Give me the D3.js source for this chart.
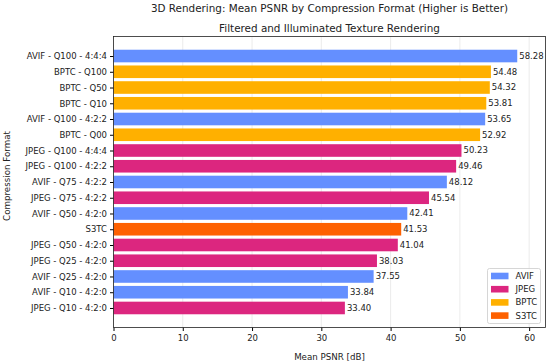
<!DOCTYPE html>
<html>
<head>
<meta charset="utf-8">
<script src="https://cdn.jsdelivr.net/npm/d3@7"></script>
<style>
  body { margin: 0; background: #fff; }
  svg { font-family: "DejaVu Sans", sans-serif; }
</style>
</head>
<body>
<svg id="chart" width="550" height="362"></svg>
<script>
// Data
const labels = [
    "AVIF - Q100 - 4:4:4", "BPTC - Q100", "BPTC - Q50", "BPTC - Q10",
    "AVIF - Q100 - 4:2:2", "BPTC - Q00", "JPEG - Q100 - 4:4:4", "JPEG - Q100 - 4:2:2",
    "AVIF - Q75 - 4:2:2", "JPEG - Q75 - 4:2:2", "AVIF - Q50 - 4:2:0", "S3TC",
    "JPEG - Q50 - 4:2:0", "JPEG - Q25 - 4:2:0", "AVIF - Q25 - 4:2:0", "AVIF - Q10 - 4:2:0",
    "JPEG - Q10 - 4:2:0"
];
const formats = [
    "AVIF", "BPTC", "BPTC", "BPTC", "AVIF", "BPTC", "JPEG", "JPEG",
    "AVIF", "JPEG", "AVIF", "S3TC", "JPEG", "JPEG", "AVIF", "AVIF", "JPEG"
];
const psnr = [
    58.28, 54.48, 54.32, 53.81, 53.65, 52.92, 50.23, 49.46,
    48.12, 45.54, 42.41, 41.53, 41.04, 38.03, 37.55, 33.84, 33.40
];
const xTicks = [0, 10, 20, 30, 40, 50, 60];
const legendKeys = ["AVIF", "JPEG", "BPTC", "S3TC"];
const colors = { AVIF: "#648FFF", JPEG: "#DC267F", BPTC: "#FFB000", S3TC: "#FE6100" };

const svg = d3.select('#chart');
const margin = { left: 113.5, right: 4.5, top: 36.5, bottom: 34.5 };
const W = 550, H = 362;
const width = W - margin.left - margin.right;
const height = H - margin.top - margin.bottom;

const g = svg.append('g').attr('transform', `translate(${margin.left},${margin.top})`);

// Scales
const x = d3.scaleLinear().domain([0, d3.max(psnr) * 1.07]).range([0, width]);
const n = labels.length;
// matplotlib-like y limits: bars of height 0.8, 5% margins
const lo = -0.4, hi = n - 1 + 0.4, pad = (hi - lo) * 0.05;
const y = d3.scaleLinear().domain([lo - pad, hi + pad]).range([0, height]);
const barH = y(0.8) - y(0);

// Grid
g.append('g').selectAll('line')
    .data(xTicks)
    .enter().append('line')
    .attr('x1', d => x(d)).attr('x2', d => x(d))
    .attr('y1', 0).attr('y2', height)
    .attr('stroke', '#e6e6e6')
    .attr('stroke-width', 0.8);

// Bars
g.append('g').selectAll('rect')
    .data(psnr)
    .enter().append('rect')
    .attr('x', x(0))
    .attr('y', (d, i) => y(i) - barH / 2)
    .attr('width', d => x(d) - x(0))
    .attr('height', barH)
    .attr('fill', (d, i) => colors[formats[i]]);

// Value labels
g.append('g').selectAll('text')
    .data(psnr)
    .enter().append('text')
    .attr('x', d => x(d) + 2)
    .attr('y', (d, i) => y(i))
    .attr('dy', '0.35em')
    .attr('font-size', 8.5)
    .attr('fill', '#222')
    .text(d => d.toFixed(2));

// Axes
const xAxis = d3.axisBottom(x).tickValues(xTicks).tickSize(3.5).tickPadding(4);
g.append('g')
    .attr('transform', `translate(0,${height})`)
    .call(xAxis)
    .call(a => a.select('.domain').remove())
    .call(a => a.selectAll('text').attr('font-size', 8.5).attr('fill', '#222').attr('font-family', 'DejaVu Sans'));

const yAxis = d3.axisLeft(y).tickValues(d3.range(n)).tickFormat(i => labels[i]).tickSize(3.5).tickPadding(3);
g.append('g')
    .call(yAxis)
    .call(a => a.select('.domain').remove())
    .call(a => a.selectAll('text').attr('font-size', 8.5).attr('fill', '#222').attr('font-family', 'DejaVu Sans'));

// Frame
g.append('rect')
    .attr('width', width).attr('height', height)
    .attr('fill', 'none').attr('stroke', '#222').attr('stroke-width', 0.8);

// Legend
const lg = g.append('g').attr('transform', `translate(${width - 58},${height - 59})`);
lg.append('rect')
    .attr('width', 53).attr('height', 55)
    .attr('rx', 2)
    .attr('fill', '#fff').attr('fill-opacity', 0.85)
    .attr('stroke', '#ccc').attr('stroke-width', 0.8);
const items = lg.selectAll('.item')
    .data(legendKeys)
    .enter().append('g')
    .attr('transform', (d, i) => `translate(3.5,${7.5 + i * 13.2})`);
items.append('rect')
    .attr('y', -3.3).attr('width', 17.5).attr('height', 6.6)
    .attr('fill', d => colors[d]);
items.append('text')
    .attr('x', 24.5).attr('dy', '0.35em')
    .attr('font-size', 8.5).attr('fill', '#222')
    .text(d => d);

// Titles
svg.append('text')
    .attr('x', margin.left + width / 2).attr('y', 11.5)
    .attr('text-anchor', 'middle')
    .attr('font-size', 10.4).attr('fill', '#222')
    .text('3D Rendering: Mean PSNR by Compression Format (Higher is Better)');
svg.append('text')
    .attr('x', margin.left + width / 2).attr('y', 32)
    .attr('text-anchor', 'middle')
    .attr('font-size', 10.4).attr('fill', '#222')
    .text('Filtered and Illuminated Texture Rendering');

// Axis labels
svg.append('text')
    .attr('x', margin.left + width / 2).attr('y', 360)
    .attr('text-anchor', 'middle')
    .attr('font-size', 8.7).attr('fill', '#222')
    .text('Mean PSNR [dB]');
svg.append('text')
    .attr('transform', `translate(10,176) rotate(-90)`)
    .attr('text-anchor', 'middle')
    .attr('font-size', 8.7).attr('fill', '#222')
    .text('Compression Format');
</script>
</body>
</html>
